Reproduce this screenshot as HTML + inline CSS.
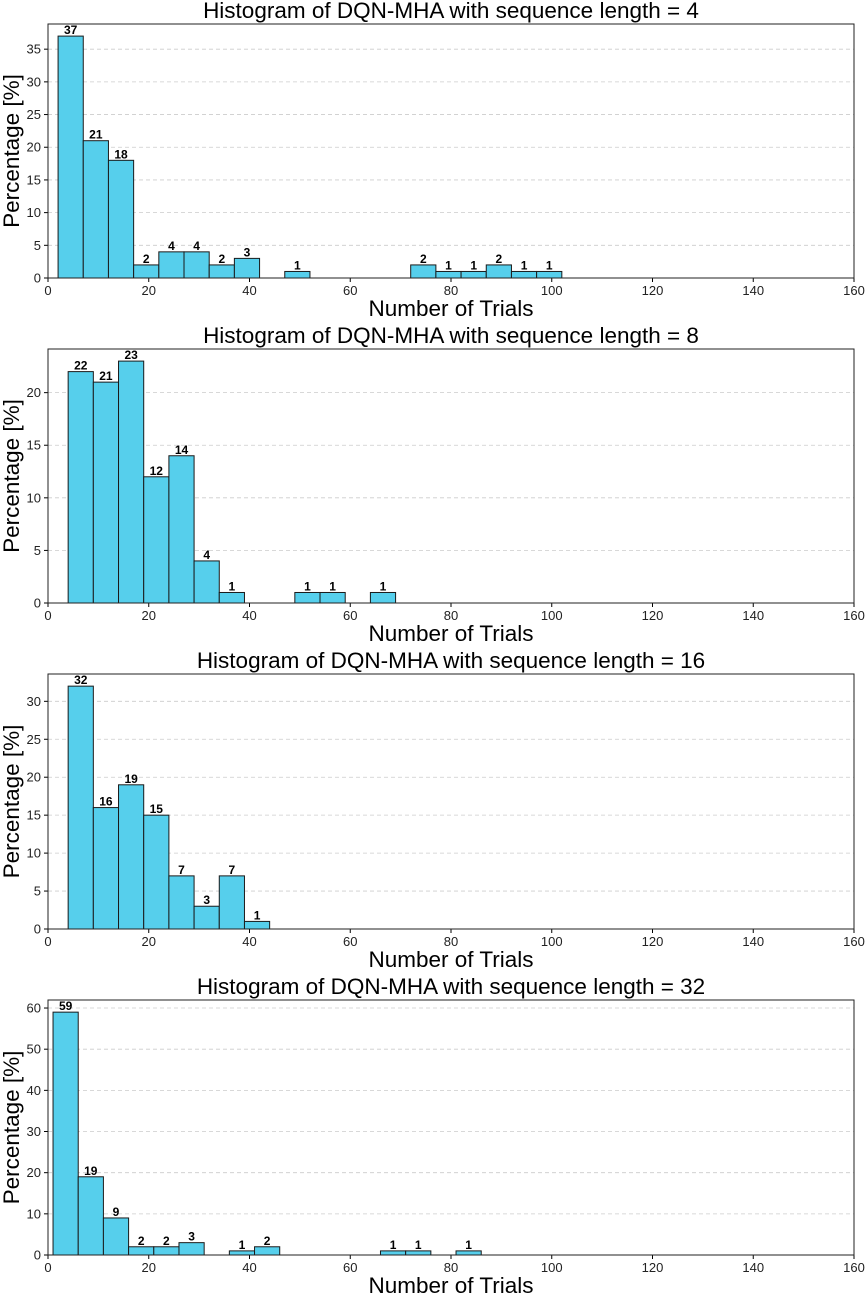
<!DOCTYPE html>
<html><head><meta charset="utf-8"><style>
body{margin:0;background:#fff}
svg text{font-family:"Liberation Sans","DejaVu Sans",sans-serif}
</style></head><body>
<svg id="c" width="865" height="1295" xmlns="http://www.w3.org/2000/svg"></svg>
<script>
const titles = ["Histogram of DQN-MHA with sequence length = 4","Histogram of DQN-MHA with sequence length = 8","Histogram of DQN-MHA with sequence length = 16","Histogram of DQN-MHA with sequence length = 32"];
const binEdges1 = [2,7,12,17,22,27,32,37,47,72,77,82,87,92,97];
const values1 = [37,21,18,2,4,4,2,3,1,2,1,1,2,1,1];
const binEdges2 = [4,9,14,19,24,29,34,49,54,64];
const values2 = [22,21,23,12,14,4,1,1,1,1];
const binEdges3 = [4,9,14,19,24,29,34,39];
const values3 = [32,16,19,15,7,3,7,1];
const binEdges4 = [1,6,11,16,21,26,36,41,66,71,81];
const values4 = [59,19,9,2,2,3,1,2,1,1,1];
const yTicks1 = [0,5,10,15,20,25,30,35];
const yTicks2 = [0,5,10,15,20];
const yTicks3 = [0,5,10,15,20,25,30];
const yTicks4 = [0,10,20,30,40,50,60];
const xTicks = [0,20,40,60,80,100,120,140,160];
const binWidth = 5;
const panels=[[binEdges1,values1,yTicks1,24,278],[binEdges2,values2,yTicks2,349,603],[binEdges3,values3,yTicks3,674,929],[binEdges4,values4,yTicks4,1000,1255]];
const svg=document.getElementById('c');const NS='http://www.w3.org/2000/svg';
function mk(t,a,p){const e=document.createElementNS(NS,t);for(const k in a)e.setAttribute(k,a[k]);(p||svg).appendChild(e);return e;}
const L=48,R=854,CX=451;
panels.forEach((p,i)=>{
 const [edges,vals,yt,top,bot]=p;
 const ymax=Math.max(...vals)*1.05;
 const sx=v=>L+v*(R-L)/160, sy=v=>bot-v*(bot-top)/ymax;
 const g=mk('g',{});
 
 
 const t=mk('text',{x:CX,y:top-6,'text-anchor':'middle','font-size':22.5},g);t.textContent=titles[i];
 
 yt.forEach(v=>{ if(v>0){const gl=mk('line',{x1:L,x2:R,y1:sy(v),y2:sy(v),stroke:'#ccc','stroke-dasharray':'4,3','stroke-width':0.8},g);
  }
  mk('line',{x1:L-4,x2:L,y1:sy(v),y2:sy(v),stroke:'#000'},g);
  const tl=mk('text',{x:L-7,y:sy(v)+4.5,'text-anchor':'end','font-size':13,fill:'#222'},g);tl.textContent=v;
  });
 xTicks.forEach(v=>{mk('line',{x1:sx(v),x2:sx(v),y1:bot,y2:bot+4,stroke:'#000'},g);
  const tl=mk('text',{x:sx(v),y:bot+17,'text-anchor':'middle','font-size':13,fill:'#222'},g);tl.textContent=v;
  });
 edges.forEach((e,j)=>{const v=vals[j];
  const b=mk('rect',{x:sx(e),y:sy(v),width:sx(e+binWidth)-sx(e),height:bot-sy(v),fill:'#56cfec',stroke:'#1a1a1a','stroke-width':1},g);
  
  const lb=mk('text',{x:sx(e+binWidth/2),y:sy(v)-2,'text-anchor':'middle','font-size':12,'font-weight':'bold'},g);lb.textContent=v;
  });
 const fr=mk('rect',{x:L,y:top,width:R-L,height:bot-top,fill:'none',stroke:'#222','stroke-width':1},g);
 
 const xl=mk('text',{x:CX,y:bot+38,'text-anchor':'middle','font-size':22.5},g);xl.textContent='Number of Trials';
 
 const cy=(top+bot)/2;
 const yl=mk('text',{x:19,y:cy,'text-anchor':'middle','font-size':22.5,transform:`rotate(-90 19 ${cy})`},g);yl.textContent='Percentage [%]';
 
});
</script>
</body></html>
